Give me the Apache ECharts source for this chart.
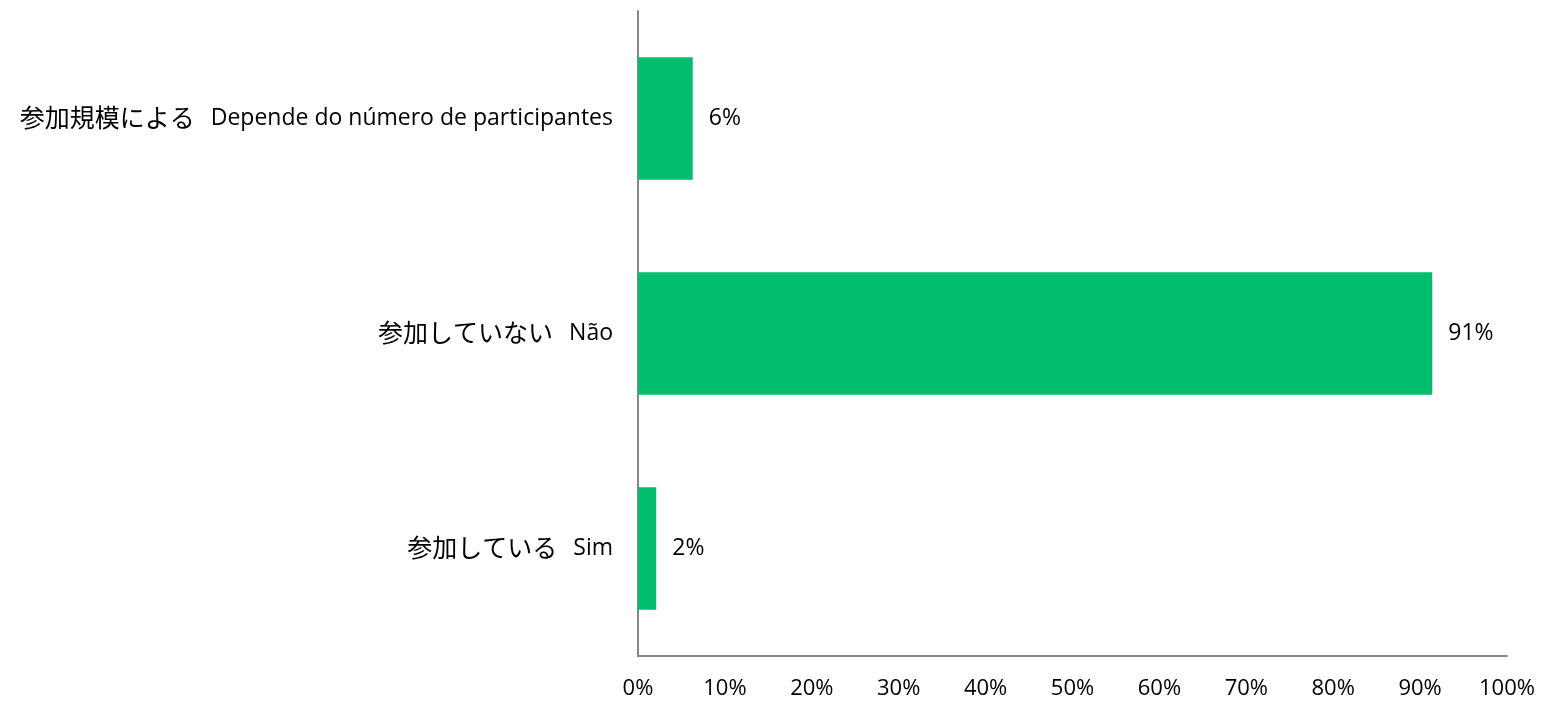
<!DOCTYPE html>
<html><head><meta charset="utf-8">
<script src="https://cdn.jsdelivr.net/npm/echarts@6/dist/echarts.min.js"></script>
<style>html,body{margin:0;padding:0;background:#fff}#c{width:1541px;height:701px}</style>
</head><body><div id="c"></div>
<script>
const categoriesJa = ['参加規模による', '参加していない', '参加している'];
const categoriesPt = ['Depende do número de participantes', 'Não', 'Sim'];
const values = [6.3, 91.4, 2.1];
const xTicks = [0, 10, 20, 30, 40, 50, 60, 70, 80, 90, 100];

const categories = categoriesJa.map((j, i) => j + '|' + categoriesPt[i]);
const FONT = '"Open Sans", "Noto Sans CJK JP", sans-serif';
const chart = echarts.init(document.getElementById('c'), null, {renderer: 'canvas'});
chart.setOption({
  animation: false,
  grid: {left: 638, right: 34, top: 11, bottom: 45, containLabel: false},
  xAxis: {
    type: 'value', min: xTicks[0], max: xTicks[xTicks.length - 1], interval: 10,
    axisLine: {show: true, lineStyle: {color: '#868686', width: 2}},
    axisTick: {show: false},
    splitLine: {show: false},
    axisLabel: {margin: 22, color: '#000', fontSize: 22, fontFamily: FONT, formatter: v => v + '%'}
  },
  yAxis: {
    type: 'category', data: categories, inverse: true,
    axisLine: {show: true, lineStyle: {color: '#868686', width: 2}},
    axisTick: {show: false},
    axisLabel: {
      margin: 25, color: '#000',
      formatter: v => { const p = v.split('|'); return '{ja|' + p[0] + '}{pt|' + p[1] + '}'; },
      rich: {
        ja: {fontSize: 25, lineHeight: 32, verticalAlign: 'middle', fontFamily: '"Noto Sans CJK JP", sans-serif', color: '#000', padding: [0, 0, 3, 0]},
        pt: {fontSize: 23, lineHeight: 32, verticalAlign: 'middle', fontFamily: FONT, color: '#000', padding: [0, 0, 0, 16]}
      }
    }
  },
  series: [{
    type: 'bar', data: values, barWidth: '57%',
    itemStyle: {color: '#00BE6E'},
    label: {show: true, position: 'right', distance: 16, color: '#000', fontSize: 23, fontFamily: FONT,
      formatter: p => Math.round(p.value) + '%'}
  }]
});
</script></body></html>
